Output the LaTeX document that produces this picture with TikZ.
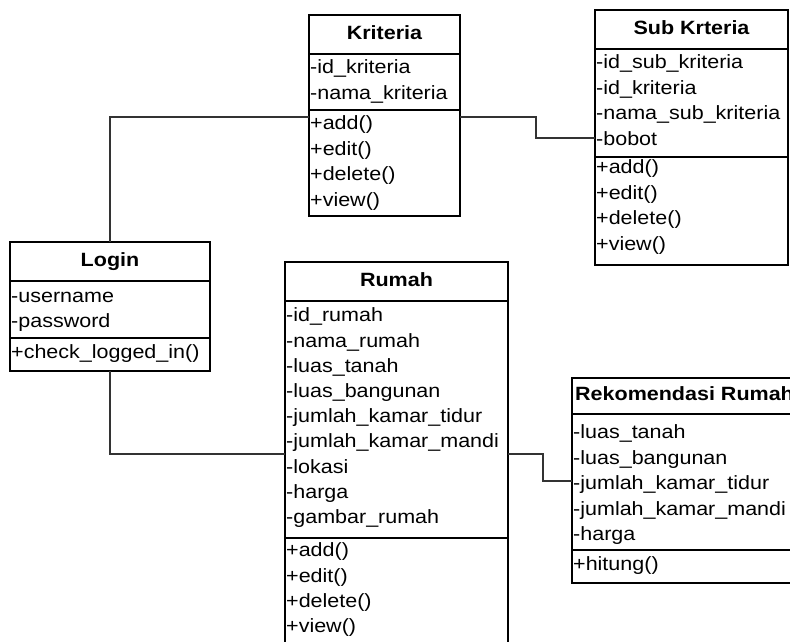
\documentclass[tikz,border=0pt]{standalone}
\usepackage{fontspec}
\setmainfont[FakeStretch=1.12]{Liberation Sans}
\begin{document}
\begin{tikzpicture}[x=1pt,y=-1pt,
  classbox/.style={draw=black,line width=1.6pt,anchor=north west,inner sep=0pt,outer sep=0pt},
  divider/.style={draw=black,line width=1.6pt},
  conn/.style={draw=black!80,line width=1.2pt},
  row/.style={anchor=west,inner sep=0pt,font=\fontsize{19.2}{22}\selectfont,text height=13.8pt,text depth=4pt},
  head/.style={inner sep=0pt,font=\fontsize{19.2}{22}\selectfont\bfseries,text height=13.8pt,text depth=4pt}]
\useasboundingbox (0,0) rectangle (790,641);
% ---------- boxes
\node[classbox,minimum width=151pt,minimum height=201pt] (kri) at (309,15) {};
\node[classbox,minimum width=193pt,minimum height=255pt] (sub) at (595,10) {};
\node[classbox,minimum width=200pt,minimum height=129pt] (login) at (10,242) {};
\node[classbox,minimum width=223pt,minimum height=400pt] (rum) at (285,262) {};
\node[classbox,minimum width=240pt,minimum height=205pt] (rek) at (572,378) {};
% ---------- dividers
\foreach \b/\d in {kri/39,kri/95,sub/39,sub/147,login/39,login/96,rum/39,rum/276,rek/36,rek/172}
  \draw[divider] ([yshift=-\d pt]\b.north west) -- ([yshift=-\d pt]\b.north east);
% ---------- headers
\node[head] (kri-h) at (384.5,34.5) {Kriteria};
\node[head] (sub-h) at (691.5,29.5) {Sub Krteria};
\node[head] (login-h) at (110,261.5) {Login};
\node[head] (rum-h) at (396.5,281.5) {Rumah};
\node[head,anchor=west] (rek-h) at (575,396) {Rekomendasi Rumah};
% ---------- rows
\foreach \t [count=\i] in {-id\_kriteria,-nama\_kriteria}
  \node[row] (kri-a\i) at (310,69+25.4*\i-25.4) {\t};
\foreach \t [count=\i] in {+add(),+edit(),+delete(),+view()}
  \node[row] (kri-m\i) at (310,125+25.4*\i-25.4) {\t};
\foreach \t [count=\i] in {-id\_sub\_kriteria,-id\_kriteria,-nama\_sub\_kriteria,-bobot}
  \node[row] (sub-a\i) at (596,64+25.5*\i-25.5) {\t};
\foreach \t [count=\i] in {+add(),+edit(),+delete(),+view()}
  \node[row] (sub-m\i) at (596,169+25.5*\i-25.5) {\t};
\foreach \t [count=\i] in {-username,-password}
  \node[row] (login-a\i) at (11,298+24.5*\i-24.5) {\t};
\node[row] (login-m1) at (11,354) {+check\_logged\_in()};
\foreach \t [count=\i] in {-id\_rumah,-nama\_rumah,-luas\_tanah,-luas\_bangunan,-jumlah\_kamar\_tidur,-jumlah\_kamar\_mandi,-lokasi,-harga,-gambar\_rumah}
  \node[row] (rum-a\i) at (286,317+25.2*\i-25.2) {\t};
\foreach \t [count=\i] in {+add(),+edit(),+delete(),+view()}
  \node[row] (rum-m\i) at (286,552+25.3*\i-25.3) {\t};
\foreach \t [count=\i] in {-luas\_tanah,-luas\_bangunan,-jumlah\_kamar\_tidur,-jumlah\_kamar\_mandi,-harga}
  \node[row] (rek-a\i) at (573,434+25.4*\i-25.4) {\t};
\node[row] (rek-m1) at (573,566) {+hitung()};
% ---------- connectors
\draw[conn] (login.north) |- ([yshift=-102pt]kri.north west);
\draw[conn] ([yshift=-102pt]kri.north east) -- ++(76,0) |- ([yshift=-128pt]sub.north west);
\draw[conn] (login.south) |- ([yshift=-192pt]rum.north west);
\draw[conn] ([yshift=-192pt]rum.north east) -- ++(35,0) |- ([yshift=-103pt]rek.north west);
\end{tikzpicture}
\end{document}
